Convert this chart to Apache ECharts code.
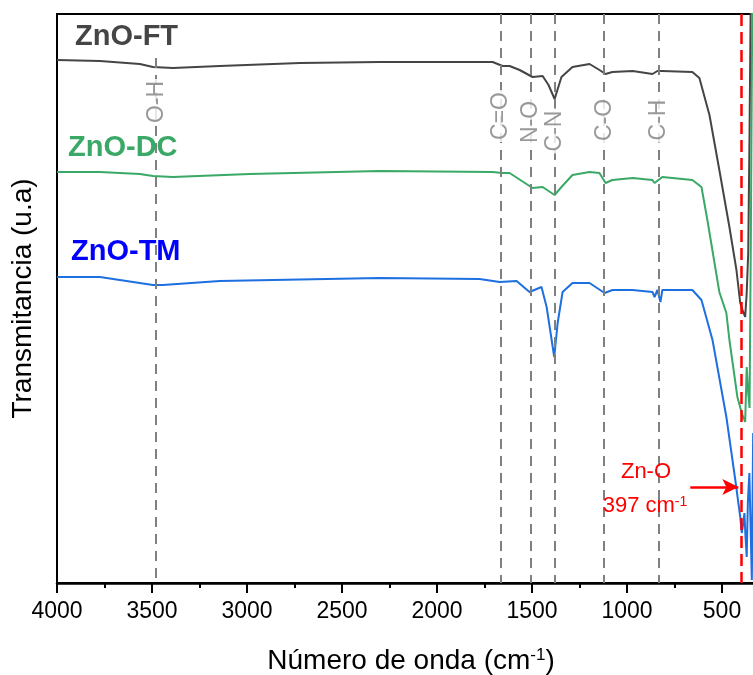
<!DOCTYPE html>
<html><head><meta charset="utf-8">
<script src="https://cdn.jsdelivr.net/npm/echarts@6/dist/echarts.min.js"></script>
<style>html,body{margin:0;padding:0;background:#fff}#c{width:753px;height:675px}</style>
</head><body><div id="c"></div>
<script>
// ---- data (wavenumber cm-1 / transmittance a.u.) ----
const ftWave = [4000,3774,3564,3495,3390,3143,2722,2301,1933,1707,1655,1618,1565,1497,1444,1413,1381,1345,1287,1197,1145,1113,1077,970,866,840,814,656,619,566,514,461,424,404,390,378,370,362,355,348];
const ftT    = [523,522,519,516,515,517,520,521,521,521,517,517,513,506,507,498,484,506,516,519,513,509,511,512,509,512,512,511,505,468,413,356,313,280,272,266,290,330,450,600];
const dcWave = [4000,3774,3564,3495,3390,2985,2301,1707,1655,1618,1497,1444,1381,1345,1287,1197,1145,1113,1077,970,866,855,814,656,608,577,514,477,461,419,396,378,370,362,355,348,340];
const dcT    = [411,411,409,407,406,409,412,411,410,410,395,396,388,396,408,411,410,400,403,405,403,400,406,403,396,363,291,270,243,186,170,161,216,190,175,350,600];
const tmWave = [4000,3774,3495,3443,3143,2301,1776,1670,1581,1513,1450,1423,1383,1365,1339,1287,1197,1118,1076,971,866,855,840,824,814,656,608,550,477,430,404,396,388,382,376,370,364,356,350,343,336];
const tmT    = [306,306,298,298,302,305,304,301,302,291,296,276,226,260,291,300,300,290,293,293,291,286,293,281,293,293,283,243,166,103,66,50,60,70,45,26,80,110,60,3,150];
const seriesNames = ['ZnO-FT','ZnO-DC','ZnO-TM'];
const bondNames = ['O-H','C=O','N-O','C-N','C-O','C-H'];
const bondWave  = [3478,1667,1509,1381,1120,832];
const bondTop   = [525,569,569,569,569,569];
const bondLabelY= [481,467,461,452,463,463];
const znoWave = 397;
const arrowFrom = [667, 96];
const arrowTo   = [414, 96];
const xTicks = [4000,3500,3000,2500,2000,1500,1000,500];

const FONT = '"Liberation Sans", Arial, sans-serif';
const zip = (a,b)=>a.map((w,i)=>[w,b[i]]);
const chart = echarts.init(document.getElementById('c'));

const option = {
  animation:false,
  grid:{left:57,width:760,top:14,bottom:92,show:true,borderColor:'#000',borderWidth:2,
    outerBoundsMode:'none',containLabel:false},
  xAxis:{type:'value',inverse:true,min:0,max:4000,interval:500,
    axisLine:{show:true,onZero:false,lineStyle:{color:'#000',width:2.5}},
    axisTick:{show:true,inside:false,length:10,lineStyle:{color:'#000',width:2}},
    minorTick:{show:true,splitNumber:2,length:5,lineStyle:{color:'#000',width:2}},
    axisLabel:{fontSize:23,color:'#000',fontFamily:FONT,margin:17,
      formatter:v=>xTicks.indexOf(v)>=0?String(v):''},
    splitLine:{show:false},minorSplitLine:{show:false}
  },
  yAxis:{type:'value',min:0,max:569,
    axisLine:{show:true,lineStyle:{color:'#000',width:2.5}},
    axisTick:{show:false},axisLabel:{show:false},splitLine:{show:false},
    name:'Transmitancia (u.a)',nameLocation:'middle',nameGap:20,
    nameTextStyle:{fontSize:28,color:'#000',fontFamily:FONT}},
  series:[
    {type:'line',name:'bonds',data:[],z:1,silent:true,
      markLine:{silent:true,symbol:['none','none'],animation:false,label:{show:false},
        lineStyle:{color:'#808080',type:[10,7],width:2},
        data:bondWave.map((w,i)=>[{coord:[w,bondTop[i]]},{coord:[w,0]}])}},
    {type:'line',name:seriesNames[0],data:zip(ftWave,ftT),showSymbol:false,z:2,
      lineStyle:{color:'#454545',width:2},itemStyle:{color:'#454545'}},
    {type:'line',name:seriesNames[1],data:zip(dcWave,dcT),showSymbol:false,z:2,
      lineStyle:{color:'#3aa866',width:2},itemStyle:{color:'#3aa866'}},
    {type:'line',name:seriesNames[2],data:zip(tmWave,tmT),showSymbol:false,z:2,
      lineStyle:{color:'#1e6fe0',width:2},itemStyle:{color:'#1e6fe0'}},
    {type:'line',name:'zno',data:[],z:5,silent:true,
      markLine:{silent:true,symbol:['none','none'],animation:false,label:{show:false},
        lineStyle:{color:'#ff0000',type:[12,6],width:2.5},
        data:[[{coord:[znoWave,569]},{coord:[znoWave,0]}]]}},
    {type:'line',name:'arrow',data:[],z:5,silent:true,
      markLine:{silent:true,symbol:['none','arrow'],symbolSize:[12,16],animation:false,label:{show:false},
        lineStyle:{color:'#ff0000',type:'solid',width:2.5},
        data:[[{coord:arrowFrom},{coord:arrowTo}]]}},
    {type:'scatter',name:'bondLabels',z:6,silent:true,symbolSize:1,
      itemStyle:{color:'rgba(0,0,0,0)'},
      data:bondWave.map((w,i)=>[w,bondLabelY[i]]),
      label:{show:true,position:'inside',rotate:90,formatter:p=>bondNames[p.dataIndex],
        fontSize:23,color:'#808080',fontFamily:FONT,backgroundColor:'#fff',padding:[4,2]}}
  ],
  graphic:[
    {type:'text',left:75,top:22,z:10,style:{text:seriesNames[0],font:'bold 29px '+FONT,fill:'#454545'}},
    {type:'text',left:68,top:133,z:10,style:{text:seriesNames[1],font:'bold 29px '+FONT,fill:'#3aa866'}},
    {type:'text',left:71,top:237,z:10,style:{text:seriesNames[2],font:'bold 29px '+FONT,fill:'#0000ff'}},
    {type:'text',x:646,y:472,z:10,style:{text:'Zn-O',font:'22px '+FONT,fill:'#ff0000',align:'center',verticalAlign:'middle'}},
    {type:'text',x:645,y:506,z:10,style:{text:'{a|397 cm}{s|-1}',align:'center',verticalAlign:'middle',
      rich:{a:{fontSize:22,fontFamily:FONT,fill:'#ff0000',color:'#ff0000'},
            s:{fontSize:14,fontFamily:FONT,fill:'#ff0000',color:'#ff0000',verticalAlign:'top'}}}},
    {type:'text',x:411,y:661,z:10,style:{text:'{a|Número de onda (cm}{s|-1}{a|)}',align:'center',verticalAlign:'middle',
      rich:{a:{fontSize:28,fontFamily:FONT,fill:'#000',color:'#000'},
            s:{fontSize:17,fontFamily:FONT,fill:'#000',color:'#000',verticalAlign:'top'}}}}
  ]
};
chart.setOption(option);
</script></body></html>
